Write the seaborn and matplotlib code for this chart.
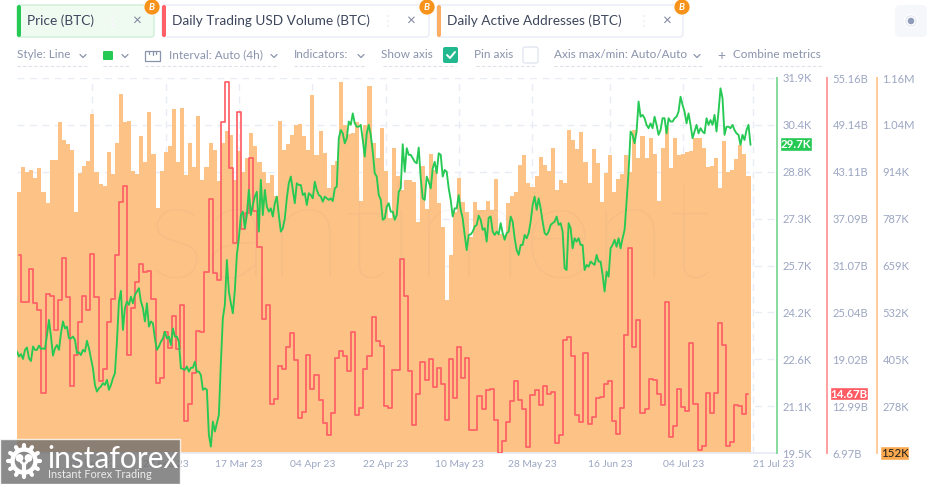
import numpy as np
import pandas as pd
import matplotlib
matplotlib.use("Agg")
import matplotlib.pyplot as plt
from matplotlib.patches import FancyBboxPatch, Rectangle, Circle
import seaborn as sns

# ---- data ----
addresses_k = [854, 922, 906, 912, 892, 917, 853, 825, 939, 939, 1043, 993, 983, 966, 800, 905, 924, 937, 1063, 907,
    875, 869, 960, 903, 984, 1116, 1042, 1044, 910, 901, 1005, 933, 1069, 955, 810, 909, 961, 976, 1077, 934,
    1079, 899, 984, 920, 1057,
    887, 922, 984, 966, 883, 985, 1018, 1006, 885, 964, 908, 944, 1012, 977, 935, 908, 879, 899, 844, 1044,
    967, 983, 1008, 1034, 1036, 1004, 966, 1114, 952, 1017, 959, 863, 926, 937, 1148, 1035, 1009, 1011, 1043, 829,
    1034, 1138, 984, 944, 1025, 911,
    783, 973, 897, 859, 886, 886, 881, 774, 924, 808, 955, 913, 823, 760, 563, 684, 801, 892, 827, 801,
    733, 827, 805, 805, 829, 805, 889, 742, 738, 823, 844, 854, 926, 953, 879, 868, 897, 947, 926, 910,
    973, 858, 885, 877, 1020, 993,
    969, 1016, 933, 877, 969, 931, 827, 904, 953, 853, 888, 901, 953, 908, 1020, 944, 1004, 944, 1000, 955,
    829, 973, 1029, 917, 1000, 953, 956, 960, 965, 1000, 998, 971, 922, 923, 944, 865, 991, 907, 913, 942,
    980, 956, 897]

volume_b = [32.41, 26.42, 26.33, 30.66, 26.24, 25.30, 14.64, 27.40, 27.19, 22.73, 26.59, 32.03, 27.06, 15.54, 19.52,
    23.76, 27.19, 25.30, 32.54, 27.06, 16.26, 17.76, 23.85, 26.72, 32.41, 39.27, 41.32, 19.52, 25.56, 28.90,
    31.21, 30.18, 30.40, 26.76, 16.01, 16.61, 22.56, 20.42, 24.62, 20.29, 25.99, 11.08, 13.27, 17.29, 22.69, 22.48,
    30.27, 39.56, 30.06, 29.24, 49.46, 54.60, 43.63, 33.91, 50.74, 35.71, 37.77, 44.83, 38.07, 33.40, 24.15,
    25.94, 13.27, 13.87, 18.15, 17.72, 20.63, 22.39, 18.92, 11.43, 12.20, 19.52, 15.19, 16.99, 13.78, 10.78,
    9.28, 12.11, 19.18, 20.12, 19.48, 17.47, 22.56, 11.85, 12.80, 17.76, 19.43, 24.49, 21.36, 20.68, 13.05,
    12.71, 17.64, 17.64, 31.86, 27.10, 17.51, 10.57, 14.55, 18.62, 16.35, 19.05, 15.45, 17.85, 15.84, 11.21,
    19.05, 14.08, 20.59, 16.65, 19.22, 9.93, 9.93, 14.34, 12.58, 15.07, 15.19, 11.17, 7.01, 8.56, 11.00,
    13.65, 16.22, 13.78, 12.62, 7.78, 14.42, 15.11, 13.14, 15.58, 14.59, 14.76, 8.30, 9.28, 21.45, 21.88, 19.43,
    11.85, 10.91, 19.86, 10.65, 11.64, 14.08, 14.21, 15.79, 16.26, 11.08, 9.45, 12.80, 22.13, 33.35, 20.55,
    24.06, 12.07, 12.62, 16.44, 16.39, 14.51, 13.10, 26.33, 8.98, 10.48, 15.24, 12.84, 12.37, 21.06, 13.27,
    7.36, 7.87, 14.72, 12.07, 14.72, 23.63, 20.85, 7.91, 8.43, 13.18, 13.05, 12.02, 14.59]

price_k = [22.85, 22.69, 22.77, 22.61, 22.91, 22.99, 22.63, 22.54, 23.02, 22.91, 22.91, 23.05, 22.94, 22.96, 22.94,
    23.40, 23.90, 23.35, 22.72, 22.96, 23.07, 22.91, 23.46, 23.85, 23.62, 23.68, 23.29, 23.29, 23.35, 23.24,
    22.80, 22.83, 22.74, 22.91, 22.85, 23.21, 22.96, 22.63, 22.30, 21.75, 21.53, 21.64, 21.70, 21.81, 21.75,
    21.92, 21.59, 21.75, 21.97, 22.14, 23.18, 24.51, 24.86, 23.57, 24.29, 24.51, 24.40, 24.67, 24.45, 24.73,
    24.84, 24.95, 24.51, 24.29, 23.85, 24.45, 23.68, 23.85, 23.79, 23.29, 22.91, 23.02, 23.18, 23.29, 23.51,
    23.29, 23.35, 23.07, 23.62, 23.35, 23.35, 23.18, 22.30, 22.28, 22.25, 22.36, 22.19, 22.32, 22.32, 22.52,
    22.19, 22.19, 22.08, 21.59,
    21.64, 21.59, 20.10, 19.71, 20.54, 20.21, 20.48, 20.76, 22.47, 23.96, 24.40, 25.88, 24.84, 24.45, 24.12,
    24.89, 26.05, 26.60, 27.37, 27.48, 26.93, 27.37, 28.20, 27.37, 27.70, 27.98, 28.14, 26.82, 28.53, 27.37,
    28.20, 27.65, 27.48, 27.59, 27.32, 27.76, 27.98, 27.37, 26.82, 26.93, 27.26, 27.92, 28.42, 28.64, 28.20,
    27.76, 28.42, 28.36, 28.36, 28.03, 28.09, 27.70, 28.09, 28.03, 27.92, 28.47, 28.20, 28.03, 27.98, 27.81,
    27.98, 27.92, 27.87, 27.92, 27.83, 28.25, 28.31, 29.91, 30.18, 30.07, 29.74, 29.91, 30.46, 30.35, 30.73,
    30.40, 30.29, 30.29, 30.35, 29.85, 29.30, 30.07, 30.35, 30.02, 29.47, 28.75, 28.64, 28.03, 27.87, 27.21,
    27.26, 27.65,
    27.76, 27.48, 27.48, 27.21, 27.37, 28.14, 28.25, 29.71, 28.80, 29.58, 29.36, 29.36, 29.25, 29.13, 29.08,
    29.60, 28.58, 27.92, 27.87, 28.64, 28.47, 28.25, 28.91, 29.13, 28.75, 29.41, 29.36, 28.64, 28.86, 28.80,
    28.25, 27.87, 27.32, 27.59, 27.59, 28.03, 27.54, 27.26, 26.71, 26.21, 26.71, 26.73, 26.82, 26.99, 27.04,
    27.35, 27.21, 26.88, 26.93, 26.49, 27.28, 27.32, 26.82, 26.71, 26.82, 26.73, 27.10, 26.77, 26.55, 26.77,
    26.82, 27.32, 27.15, 26.60, 26.21, 26.05, 26.38, 26.38, 26.71, 26.60, 26.77, 27.15, 27.70, 27.98, 27.54,
    27.92, 27.59, 27.15, 26.77, 26.71, 26.82, 27.04, 27.10, 27.15, 27.32, 27.04, 27.10, 26.82, 25.61, 25.55,
    27.10, 26.93, 26.27,
    26.60, 26.49, 26.60, 26.38, 26.38, 25.55, 25.72, 25.66, 25.83, 25.77, 25.72, 26.05, 25.83, 25.83, 25.39,
    24.84, 25.50, 25.33, 26.27, 26.38, 26.55, 26.32, 26.60, 26.27, 26.60, 26.88, 27.81, 28.80, 30.13, 30.02,
    29.74, 30.13, 31.12, 30.62, 30.68, 30.57, 30.35, 30.24, 30.40, 30.24, 30.62, 30.35, 30.02, 30.18, 30.57,
    30.57, 30.07, 30.57, 30.46, 30.46, 30.57, 30.62, 30.79, 31.28, 31.01, 30.79, 30.40, 30.73, 30.35, 29.91,
    30.13, 30.35, 30.07, 30.24, 30.13, 30.07, 30.57, 30.35, 30.51, 30.35, 30.68, 30.13, 30.79, 31.56, 31.23,
    30.02, 30.29, 30.29, 30.24, 30.35, 30.18, 30.07, 30.02, 29.69, 30.02, 29.85, 30.18, 30.35, 29.69]

date_ticks = ["2023-02-09", "2023-02-27", "2023-03-17", "2023-04-04", "2023-04-22",
              "2023-05-10", "2023-05-28", "2023-06-16", "2023-07-04", "2023-07-21"]
date_labels = ["09 Feb 23", "27 Feb 23", "17 Mar 23", "04 Apr 23", "22 Apr 23",
               "10 May 23", "28 May 23", "16 Jun 23", "04 Jul 23", "21 Jul 23"]
price_labels = ["19.5K", "21.1K", "22.6K", "24.2K", "25.7K", "27.3K", "28.8K", "30.4K", "31.9K"]
volume_labels = ["6.97B", "12.99B", "19.02B", "25.04B", "31.07B", "37.09B", "43.11B", "49.14B", "55.16B"]
# the lowest tick is shown by the 152K badge below
address_labels = ["", "278K", "405K", "532K", "659K", "787K", "914K", "1.04M", "1.16M"]
metrics = ["Price (BTC)", "Daily Trading USD Volume (BTC)", "Daily Active Addresses (BTC)"]

GREEN = "#26C953"
RED = "#FF5F66"
ORANGE = "#FDC285"
LABEL = "#9CA6C2"
UI_TEXT = "#8A93AC"
GRID = "#E9ECF5"

sns.set_theme(style="white")
plt.rcParams["font.family"] = ["Lato", "DejaVu Sans"]

W, H = 935, 484
fig = plt.figure(figsize=(W / 100, H / 100), dpi=100, facecolor="white")
L, R, T, B = 17, 777, 78, 453
ax = fig.add_axes([L / W, 1 - B / H, (R - L) / W, (B - T) / H])

days = pd.date_range("2023-01-22", periods=len(addresses_k))
idx = np.arange(len(days))
tick_pos = [(pd.Timestamp(d) - days[0]).days for d in date_ticks]

# bars first, the twin axes go on top
sns.barplot(x=idx, y=addresses_k, color=ORANGE, saturation=1, width=1, linewidth=0, ax=ax)
ax.set_ylim(152, 1160)
x_right = -0.5 + len(idx) * (R - L) / 733.5
ax.set_axisbelow(True)
ax.grid(True, color=GRID, linestyle=(0, (5, 4)), linewidth=1)
ax.set_xlabel("")
ax.set_ylabel("")

ax_vol = ax.twinx()
sns.lineplot(x=idx, y=volume_b, color=RED, linewidth=1.25, drawstyle="steps-mid", errorbar=None, ax=ax_vol)
ax_vol.set_ylim(6.97, 55.16)
ax_vol.set_yticks(np.linspace(6.97, 55.16, 9), volume_labels)
ax_vol.spines["right"].set_position(("outward", 36))
ax_vol.spines["right"].set_color("#FF9EA0")

ax_price = ax.twinx()
price_x = np.linspace(-0.5, len(idx) - 0.5, len(price_k))
sns.lineplot(x=price_x, y=price_k, color=GREEN, linewidth=1.35, errorbar=None, ax=ax_price)
ax_price.set_ylim(19.5, 31.9)
ax_price.set_yticks(np.linspace(19.5, 31.9, 9), price_labels)
ax_price.spines["right"].set_color("#86DB9C")

# twinx flips the base axis back to the left, so set it up after the twins
ax.set_xlim(-0.5, x_right)
ax.set_xticks(tick_pos)
ax.set_xticklabels(date_labels)
ax.tick_params(axis="x", length=0, pad=5, labelsize=7.4, labelcolor=LABEL)
ax.get_xticklabels()[-1].set_ha("left")
ax.yaxis.tick_right()
ax.set_yticks(np.linspace(152, 1160, 9), address_labels)
for s in ["top", "left"]:
    ax.spines[s].set_visible(False)
ax.spines["bottom"].set_color(GRID)
ax.spines["right"].set_position(("outward", 72))
ax.spines["right"].set_color("#FFCB99")

for a in [ax, ax_vol, ax_price]:
    a.tick_params(axis="y", length=0, pad=4, labelsize=8, labelcolor=LABEL)
    a.spines["right"].set_linewidth(1.4)
    a.set_ylabel("")
for a in [ax_vol, ax_price]:
    a.grid(False)
    for s in ["top", "left", "bottom"]:
        a.spines[s].set_visible(False)

# overlay in pixel coordinates for the app chrome
ui = fig.add_axes([0, 0, 1, 1], facecolor="none", zorder=10)
ui.set_xlim(0, W)
ui.set_ylim(H, 0)
ui.axis("off")


def box(x0, y0, x1, y1, fc, ec="none", r=3, lw=1, **kw):
    p = FancyBboxPatch((x0 + r, y0 + r), x1 - x0 - 2 * r, y1 - y0 - 2 * r,
                       boxstyle=f"round,pad={r}", fc=fc, ec=ec, lw=lw, **kw)
    ui.add_patch(p)


def chevron(x, y=56):
    ui.plot([x - 3, x, x + 3], [y - 1.5, y + 1.5, y - 1.5], color=UI_TEXT, lw=0.9)


# watermark
ui.text(430, 240, "santiment", fontsize=98, color="#8a8a9a", alpha=0.07, ha="center", va="center", fontweight="light")

# metric cards
cards = [(17, 154, "#EFFAF1", "#CDEFD6", GREEN, 27, 113, 137, 152),
         (162, 429, "white", "#E9ECF5", RED, 172, 388, 411, 427),
         (437, 683, "white", "#E9ECF5", "#FDAE62", 447, 644, 667, 682)]
for (x0, x1, fc, ec, strip, tx, dots, cross, coin), name in zip(cards, metrics):
    box(x0, 5, x1, 37, fc, ec)
    box(x0, 5, x0 + 4, 37, strip, r=2)
    ui.text(tx, 21, name, fontsize=9.8, color="#3D465C", va="center")
    for dy in (-5, 0, 5):
        ui.add_patch(Circle((dots, 21 + dy), 1.1, fc="#7D869E"))
    ui.text(cross, 21, "\u00d7", fontsize=11, color="#7D869E", ha="center", va="center")
    ui.add_patch(Circle((coin, 7), 8, fc="#F7931A", ec="white", lw=0.5))
    ui.text(coin, 7, "B", fontsize=7, color="white", fontweight="bold", style="italic", ha="center", va="center")

# record button on the right
box(895, 5, 927, 37, "#F5F7FB", r=5)
ui.add_patch(Circle((911, 21), 6.5, fc="#E1E5F0"))
ui.add_patch(Circle((911, 21), 4, fc="#8F9BB8"))

# control row
controls = [("Style: Line", 17), ("Interval: Auto (4h)", 169), ("Indicators:", 294), ("Show axis", 381),
            ("Pin axis", 474), ("Axis max/min: Auto/Auto", 554), ("Combine metrics", 733)]
for txt, x in controls:
    ui.text(x, 55, txt, fontsize=8.5, color=UI_TEXT, va="center")
for x in (83, 125, 274, 361, 697):
    chevron(x)
for x0, x1 in [(17, 87), (103, 129), (145, 278), (294, 365), (383, 456), (476, 537), (554, 702), (718, 822)]:
    ui.plot([x0, x1], [66, 66], color="#DDE1EC", lw=0.8, linestyle=(0, (3, 2)))
box(103, 51, 113, 60, GREEN, r=1)
ui.add_patch(Rectangle((145, 51), 15, 10, fc="none", ec=UI_TEXT, lw=0.9))
ui.plot([149, 149], [51, 54], color=UI_TEXT, lw=0.9)
ui.plot([152.5, 152.5], [51, 55], color=UI_TEXT, lw=0.9)
ui.plot([156, 156], [51, 54], color=UI_TEXT, lw=0.9)
box(443, 47, 458, 63, "#22B88F", r=2)
ui.plot([447, 450, 455], [55, 58, 52], color="white", lw=1.4)
box(523, 47, 538, 63, "white", "#E3E6F0", r=2)
ui.text(721, 56, "+", fontsize=10, color=UI_TEXT, ha="center", va="center")

# current value badges
ui.add_patch(Rectangle((780, 137), 32, 14, fc=GREEN))
ui.text(796, 144.5, "29.7K", fontsize=8.3, color="white", fontweight="bold", ha="center", va="center")
ui.add_patch(Rectangle((830, 387), 38, 13, fc="#FF5B63"))
ui.text(849, 394, "14.67B", fontsize=8.3, color="white", fontweight="bold", ha="center", va="center")
ui.add_patch(Rectangle((880, 446), 29, 14, fc="#FBA94F"))
ui.text(894.5, 453.5, "152K", fontsize=8.3, color="#1a1a1a", ha="center", va="center")

# broker logo
ui.add_patch(Rectangle((0, 439), 180, 45, fc="#6E6E6E", alpha=0.8))
ui.add_patch(Circle((24, 461), 11.5, fc="none", ec="white", lw=3.2))
for ang in np.linspace(0, 2 * np.pi, 12, endpoint=False):
    ui.plot([24 + 12.5 * np.cos(ang), 24 + 16 * np.cos(ang)], [461 + 12.5 * np.sin(ang), 461 + 16 * np.sin(ang)],
            color="white", lw=3)
ui.add_patch(Circle((19.5, 458), 3.2, fc="white"))
ui.add_patch(Circle((28.5, 458), 3.2, fc="white"))
ui.plot([19.5, 24, 28.5], [460, 465, 460], color="white", lw=2)
ui.plot([24, 24], [465, 476], color="white", lw=3)
ui.text(47, 459, "instaforex", fontsize=21.5, color="white", va="center")
ui.text(48, 475, "Instant Forex Trading", fontsize=7.9, color="#EDEDED", va="center")

fig.savefig("out.png", dpi=100)
